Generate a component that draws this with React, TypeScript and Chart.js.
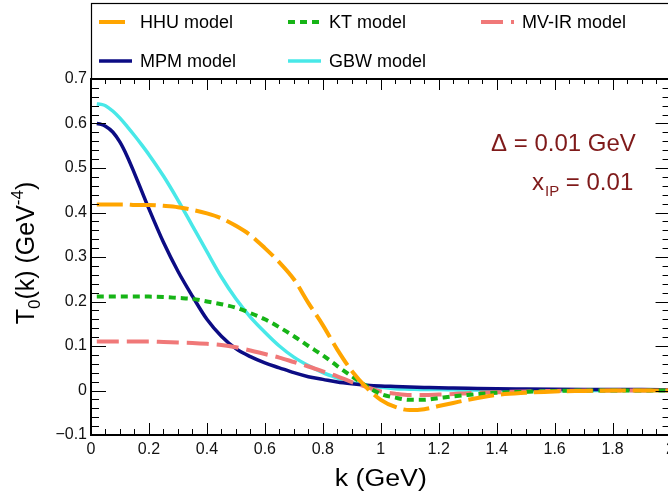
import React, { useEffect, useRef } from 'react';
import { Chart, registerables } from 'chart.js';

Chart.register(...registerables);

// ---- data ----
const kValues = [0.02, 0.035, 0.05, 0.075, 0.1, 0.125, 0.15, 0.175, 0.2, 0.25, 0.3, 0.35, 0.4, 0.45, 0.5, 0.55, 0.6, 0.65, 0.7, 0.75, 0.8, 0.85, 0.9, 0.95, 1.0, 1.05, 1.1, 1.15, 1.2, 1.25, 1.3, 1.4, 1.5, 1.6, 1.7, 1.8, 1.9, 2.0];

const hhuValues = [0.418, 0.418, 0.418, 0.418, 0.418, 0.418, 0.417, 0.417, 0.417, 0.415, 0.412, 0.406, 0.398, 0.387, 0.370, 0.349, 0.320, 0.288, 0.250, 0.197, 0.147, 0.092, 0.044, 0.007, -0.021, -0.037, -0.044, -0.042, -0.035, -0.028, -0.021, -0.010, -0.005, -0.002, -0.001, 0, 0, 0];
const ktValues = [0.211, 0.211, 0.211, 0.211, 0.211, 0.211, 0.211, 0.211, 0.211, 0.210, 0.208, 0.206, 0.200, 0.194, 0.186, 0.174, 0.160, 0.142, 0.122, 0.100, 0.079, 0.055, 0.032, 0.010, -0.008, -0.016, -0.021, -0.021, -0.017, -0.013, -0.010, -0.005, -0.003, -0.001, 0, 0, 0, 0];
const mvirValues = [0.110, 0.110, 0.110, 0.110, 0.110, 0.110, 0.110, 0.110, 0.110, 0.109, 0.108, 0.107, 0.105, 0.102, 0.097, 0.090, 0.082, 0.074, 0.064, 0.054, 0.043, 0.032, 0.019, 0.008, -0.002, -0.007, -0.010, -0.010, -0.009, -0.008, -0.006, -0.004, -0.002, -0.001, 0, 0, 0, 0];
const mpmValues = [0.600, 0.598, 0.594, 0.581, 0.558, 0.526, 0.488, 0.448, 0.408, 0.333, 0.268, 0.212, 0.160, 0.122, 0.094, 0.076, 0.062, 0.051, 0.040, 0.031, 0.025, 0.019, 0.015, 0.012, 0.010, 0.009, 0.008, 0.007, 0.006, 0.0055, 0.005, 0.004, 0.0035, 0.003, 0.0025, 0.002, 0.002, 0.0015];
const gbwValues = [0.644, 0.643, 0.640, 0.628, 0.612, 0.593, 0.573, 0.552, 0.530, 0.482, 0.428, 0.370, 0.312, 0.255, 0.206, 0.165, 0.131, 0.100, 0.075, 0.056, 0.040, 0.028, 0.018, 0.012, 0.007, 0.004, 0.003, 0.002, 0.002, 0.0015, 0.001, 0.001, 0.0005, 0, 0, 0, 0, 0];

const seriesLabels = ['HHU model', 'KT model', 'MV-IR model', 'MPM model', 'GBW model'];

const xMin = 0, xMax = 2, xStep = 0.2, xMinorStep = 0.05;
const yMin = -0.1, yMax = 0.7, yStep = 0.1, yMinorStep = 0.02;

const xTitle = 'k (GeV)';
const annotation1 = 'Δ = 0.01 GeV';
const annotation2 = ['x', 'IP', ' = 0.01'];

const FONT = '"Liberation Sans", Arial, Helvetica, sans-serif';

const styles = [
  { color: '#ffa500', dash: [26, 7], width: 4 },
  { color: '#16b416', dash: [7, 5], width: 4 },
  { color: '#f07878', dash: [22, 8], width: 4 },
  { color: '#0c0c84', dash: [] as number[], width: 3.5 },
  { color: '#48e8e8', dash: [] as number[], width: 3.5 },
];

const allSeries = [hhuValues, ktValues, mvirValues, mpmValues, gbwValues];

function fmtX(v: number) {
  return String(Number(v.toFixed(1)));
}
function fmtY(v: number) {
  const r = Math.round(v * 10) / 10;
  if (Math.abs(r) < 1e-9) return '0';
  return r < 0 ? '\u2212' + String(-r) : String(r);
}

const overlay = {
  id: 'overlay',
  afterDraw(chart: any) {
    const ctx: CanvasRenderingContext2D = chart.ctx;
    const { left, right, top, bottom } = chart.chartArea;
    const xs = chart.scales.x;
    const ys = chart.scales.y;
    ctx.save();

    // ticks (inward on all four sides)
    ctx.strokeStyle = '#000';
    ctx.lineWidth = 1;
    const nx = Math.round((xMax - xMin) / xMinorStep);
    const perMajorX = Math.round(xStep / xMinorStep);
    for (let i = 0; i <= nx; i++) {
      const px = Math.round(xs.getPixelForValue(xMin + i * xMinorStep)) + 0.5;
      const major = i % perMajorX === 0;
      const lb = major ? 12 : 6;
      const lt = major ? 11 : 5;
      ctx.beginPath();
      ctx.moveTo(px, bottom);
      ctx.lineTo(px, bottom - lb);
      ctx.moveTo(px, top);
      ctx.lineTo(px, top + lt);
      ctx.stroke();
    }
    const ny = Math.round((yMax - yMin) / yMinorStep);
    const perMajorY = Math.round(yStep / yMinorStep);
    for (let i = 0; i <= ny; i++) {
      const py = Math.round(ys.getPixelForValue(yMin + i * yMinorStep)) + 0.5;
      const major = i % perMajorY === 0;
      const l = major ? 15 : 8;
      ctx.beginPath();
      ctx.moveTo(left, py);
      ctx.lineTo(left + l, py);
      ctx.moveTo(right, py);
      ctx.lineTo(right - l, py);
      ctx.stroke();
    }

    // frame
    ctx.lineWidth = 2;
    ctx.strokeRect(left, top, right - left, bottom - top);

    // legend box
    ctx.lineWidth = 1.2;
    ctx.strokeRect(left + 0.5, 3.5, 700, top - 3.5);

    const colX = [99, 288, 481];
    const rowY = [22, 61];
    ctx.font = `18px ${FONT}`;
    ctx.textBaseline = 'middle';
    ctx.textAlign = 'left';
    seriesLabels.forEach((lab, i) => {
      const c = i % 3, r = Math.floor(i / 3);
      const x0 = colX[c], y0 = rowY[r];
      const st = styles[i];
      ctx.strokeStyle = st.color;
      ctx.lineWidth = st.width;
      ctx.setLineDash(st.dash);
      ctx.beginPath();
      ctx.moveTo(x0, y0);
      ctx.lineTo(x0 + 33, y0);
      ctx.stroke();
      ctx.setLineDash([]);
      ctx.fillStyle = '#000';
      ctx.fillText(lab, x0 + 41, y0 + 1);
    });

    // annotation
    ctx.fillStyle = '#7f1a1a';
    ctx.textBaseline = 'alphabetic';
    ctx.font = `24px ${FONT}`;
    ctx.fillText(annotation1, 491, 151);
    let ax = 532;
    ctx.fillText(annotation2[0], ax, 190);
    ax += ctx.measureText(annotation2[0]).width + 1;
    ctx.font = `15px ${FONT}`;
    ctx.fillText(annotation2[1], ax, 196);
    ax += ctx.measureText(annotation2[1]).width;
    ctx.font = `24px ${FONT}`;
    ctx.fillText(annotation2[2], ax, 190);

    // x title
    ctx.fillStyle = '#000';
    ctx.font = `23px ${FONT}`;
    const w = ctx.measureText(xTitle).width;
    const target = 92;
    const sx = target / w;
    const cx = (left + right) / 2;
    ctx.save();
    ctx.translate(cx - target / 2, 486);
    ctx.scale(sx, 1);
    ctx.fillText(xTitle, 0, 0);
    ctx.restore();

    // y title (rotated, rich text)
    const parts = [
      { t: 'T', size: 25, dy: 0 },
      { t: '0', size: 17, dy: 6 },
      { t: '(k) (GeV', size: 25, dy: 0 },
      { t: '-4', size: 17, dy: -11 },
      { t: ')', size: 25, dy: 0 },
    ];
    let total = 0;
    parts.forEach((p) => {
      ctx.font = `${p.size}px ${FONT}`;
      total += ctx.measureText(p.t).width;
    });
    ctx.save();
    ctx.translate(33.5, (top + bottom) / 2 - 4);
    ctx.rotate(-Math.PI / 2);
    let tx = -total / 2;
    parts.forEach((p) => {
      ctx.font = `${p.size}px ${FONT}`;
      ctx.fillText(p.t, tx, p.dy);
      tx += ctx.measureText(p.t).width;
    });
    ctx.restore();

    ctx.restore();
  },
};

export default function App() {
  const ref = useRef<HTMLCanvasElement | null>(null);
  useEffect(() => {
    document.body.style.margin = '0';
    const canvas = ref.current!;
    const datasets = allSeries.map((vals, i) => ({
      label: seriesLabels[i],
      data: kValues.map((k, j) => ({ x: k, y: vals[j] })),
      borderColor: styles[i].color,
      borderWidth: styles[i].width,
      borderDash: styles[i].dash,
      pointRadius: 0,
      fill: false,
      cubicInterpolationMode: 'monotone' as const,
      borderCapStyle: 'butt' as const,
    }));
    const chart = new Chart(canvas, {
      type: 'line',
      data: { datasets },
      options: {
        responsive: false,
        animation: false,
        devicePixelRatio: 1,
        layout: { padding: { top: 79, right: 8, left: 0, bottom: 0 } },
        plugins: { legend: { display: false }, tooltip: { enabled: false } },
        scales: {
          x: {
            type: 'linear',
            min: xMin,
            max: xMax,
            afterFit: (s: any) => { s.height = 57; },
            grid: { display: false, drawTicks: false },
            border: { display: false },
            ticks: {
              stepSize: xStep,
              padding: 5,
              color: '#111',
              maxRotation: 0,
              autoSkip: false,
              font: { size: 16, family: FONT },
              callback: (v: any) => fmtX(Number(v)),
            },
          },
          y: {
            type: 'linear',
            min: yMin,
            max: yMax,
            afterFit: (s: any) => { s.width = 91; },
            grid: { display: false, drawTicks: false },
            border: { display: false },
            ticks: {
              stepSize: yStep,
              padding: 4,
              color: '#111',
              autoSkip: false,
              font: { size: 16, family: FONT },
              callback: (v: any) => fmtY(Number(v)),
            },
          },
        },
      },
      plugins: [overlay],
    });
    return () => chart.destroy();
  }, []);
  return (
    <div style={{ position: 'absolute', left: 0, top: 0, width: 668, height: 492, overflow: 'hidden', background: '#fff' }}>
      <canvas ref={ref} width={680} height={492} style={{ width: 680, height: 492, display: 'block' }} />
    </div>
  );
}
